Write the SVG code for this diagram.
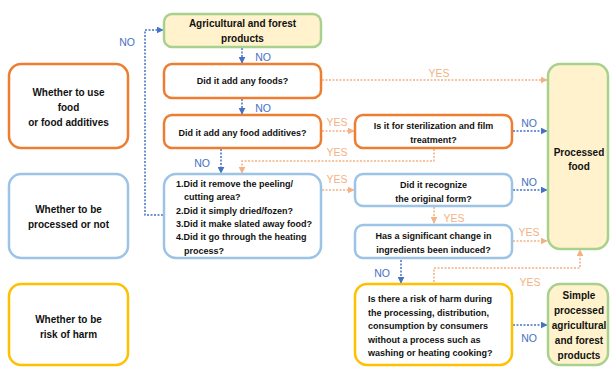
<svg xmlns="http://www.w3.org/2000/svg" width="610" height="367" viewBox="0 0 610 367">
<defs>
<style>
.t{font-family:"Liberation Sans",Arial,sans-serif;font-weight:bold;fill:#111;}
.s9{font-size:9px;}
.s10{font-size:10px;}
.lbl{font-family:"Liberation Sans",Arial,sans-serif;font-size:10.5px;}
.no{fill:#4472C4;}
.yes{fill:#F4B183;}
.bo{fill:#fff;stroke:#ED7D31;stroke-width:2.5;}
.bb{fill:#fff;stroke:#9DC3E6;stroke-width:2.5;}
.by{fill:#fff;stroke:#FFC000;stroke-width:2.5;}
.bg{fill:#FFF2CC;stroke:#A9D18E;stroke-width:2.5;}
.cn{fill:none;stroke:#4472C4;stroke-width:1.5;stroke-dasharray:2 1.5;marker-end:url(#an);}
.cy{fill:none;stroke:#F4B183;stroke-width:1.5;stroke-dasharray:2 1.5;marker-end:url(#ay);}
</style>
<marker id="an" viewBox="0 0 10 10" refX="9" refY="5" markerWidth="7" markerHeight="7" markerUnits="userSpaceOnUse" orient="auto"><path d="M0,0L10,5L0,10z" fill="#4472C4"/></marker>
<marker id="ay" viewBox="0 0 10 10" refX="9" refY="5" markerWidth="7" markerHeight="7" markerUnits="userSpaceOnUse" orient="auto"><path d="M0,0L10,5L0,10z" fill="#F4B183"/></marker>
</defs>
<rect width="610" height="367" fill="#fff"/>

<g id="connectors">
<path class="cn" d="M242,48V63"/>
<path class="cn" d="M242,99V114"/>
<path class="cn" d="M221,149V173"/>
<path class="cn" d="M163,215H145V30H163"/>
<path class="cy" d="M322,80H547"/>
<path class="cy" d="M322,131H354"/>
<path class="cn" d="M513,131H547"/>
<path class="cy" d="M434,149V161H242V173"/>
<path class="cy" d="M322,190H354"/>
<path class="cn" d="M513,190H547"/>
<path class="cy" d="M434,207V223"/>
<path class="cy" d="M513,241H547"/>
<path class="cn" d="M401,260V283"/>
<path class="cy" d="M434,282V268H580V250"/>
<path class="cn" d="M513,325H547"/>
</g>

<g id="labels">
<text class="lbl no" x="127" y="46" text-anchor="middle">NO</text>
<text class="lbl no" x="263" y="61" text-anchor="middle">NO</text>
<text class="lbl no" x="263" y="112" text-anchor="middle">NO</text>
<text class="lbl no" x="202" y="167" text-anchor="middle">NO</text>
<text class="lbl yes" x="439" y="77" text-anchor="middle">YES</text>
<text class="lbl yes" x="337" y="126" text-anchor="middle">YES</text>
<text class="lbl yes" x="337" y="156" text-anchor="middle">YES</text>
<text class="lbl no" x="529" y="127" text-anchor="middle">NO</text>
<text class="lbl yes" x="337" y="183" text-anchor="middle">YES</text>
<text class="lbl no" x="529" y="186" text-anchor="middle">NO</text>
<text class="lbl yes" x="454" y="222" text-anchor="middle">YES</text>
<text class="lbl yes" x="529" y="236" text-anchor="middle">YES</text>
<text class="lbl no" x="382" y="277" text-anchor="middle">NO</text>
<text class="lbl yes" x="530" y="286" text-anchor="middle">YES</text>
<text class="lbl no" x="529" y="342" text-anchor="middle">NO</text>
</g>

<g id="agri">
<rect class="bg" x="164" y="14" width="157" height="33" rx="8"/>
<text class="t s10" x="242.5" y="26.5" text-anchor="middle">Agricultural and forest</text>
<text class="t s10" x="242.5" y="41.5" text-anchor="middle">products</text>
</g>

<g id="foods">
<rect class="bo" x="164" y="64" width="157" height="34" rx="8"/>
<text class="t s9" x="242.5" y="84" text-anchor="middle">Did it add any foods?</text>
</g>

<g id="additives">
<rect class="bo" x="164" y="115" width="157" height="33" rx="8"/>
<text class="t s9" x="242.5" y="136" text-anchor="middle">Did it add any food additives?</text>
</g>

<g id="sterilization">
<rect class="bo" x="355" y="115" width="157" height="33" rx="8"/>
<text class="t s9" x="433.5" y="129" text-anchor="middle">Is it for sterilization and film</text>
<text class="t s9" x="433.5" y="143" text-anchor="middle">treatment?</text>
</g>

<g id="useFood">
<rect class="bo" x="9" y="64" width="119" height="84" rx="12"/>
<text class="t s10" x="68.5" y="95.5" text-anchor="middle">Whether to use</text>
<text class="t s10" x="68.5" y="110.5" text-anchor="middle">food</text>
<text class="t s10" x="68.5" y="125.5" text-anchor="middle">or food additives</text>
</g>

<g id="processedFood">
<rect class="bg" x="548" y="64" width="60" height="185" rx="12"/>
<text class="t s10" x="579" y="155.5" text-anchor="middle">Processed</text>
<text class="t s10" x="579" y="169.5" text-anchor="middle">food</text>
</g>

<g id="processedOrNot">
<rect class="bb" x="9" y="174" width="119" height="84" rx="12"/>
<text class="t s10" x="68.5" y="212.5" text-anchor="middle">Whether to be</text>
<text class="t s10" x="68.5" y="227.5" text-anchor="middle">processed or not</text>
</g>

<g id="checklist">
<rect class="bb" x="164" y="174" width="157" height="84" rx="12"/>
<text class="t s9" x="176" y="187">1.Did it remove the peeling/</text>
<text class="t s9" x="184" y="200">cutting area?</text>
<text class="t s9" x="176" y="214">2.Did it simply dried/fozen?</text>
<text class="t s9" x="176" y="227">3.Did it make slated away food?</text>
<text class="t s9" x="176" y="240">4.Did it go through the heating</text>
<text class="t s9" x="184" y="254">process?</text>
</g>

<g id="recognize">
<rect class="bb" x="355" y="174" width="157" height="32" rx="8"/>
<text class="t s9" x="433.5" y="188" text-anchor="middle">Did it recognize</text>
<text class="t s9" x="433.5" y="202" text-anchor="middle">the original form?</text>
</g>

<g id="significant">
<rect class="bb" x="355" y="225" width="157" height="33" rx="8"/>
<text class="t s9" x="433.5" y="239" text-anchor="middle">Has a significant change in</text>
<text class="t s9" x="433.5" y="253" text-anchor="middle">ingredients been induced?</text>
</g>

<g id="riskOfHarm">
<rect class="by" x="9" y="284" width="119" height="81" rx="12"/>
<text class="t s10" x="68.5" y="322.5" text-anchor="middle">Whether to be</text>
<text class="t s10" x="68.5" y="337.5" text-anchor="middle">risk of harm</text>
</g>

<g id="harm">
<rect class="by" x="355" y="284" width="157" height="81" rx="12"/>
<text class="t s9" x="368" y="302">Is there a risk of harm during</text>
<text class="t s9" x="368" y="316">the processing, distribution,</text>
<text class="t s9" x="368" y="329">consumption by consumers</text>
<text class="t s9" x="368" y="343">without a process such as</text>
<text class="t s9" x="368" y="356">washing or heating cooking?</text>
</g>

<g id="simple">
<rect class="bg" x="548" y="284" width="60" height="81" rx="12"/>
<text class="t s10" x="579" y="298.5" text-anchor="middle">Simple</text>
<text class="t s10" x="579" y="313.5" text-anchor="middle">processed</text>
<text class="t s10" x="579" y="328.5" text-anchor="middle">agricultural</text>
<text class="t s10" x="579" y="343.5" text-anchor="middle">and forest</text>
<text class="t s10" x="579" y="358.5" text-anchor="middle">products</text>
</g>
</svg>
